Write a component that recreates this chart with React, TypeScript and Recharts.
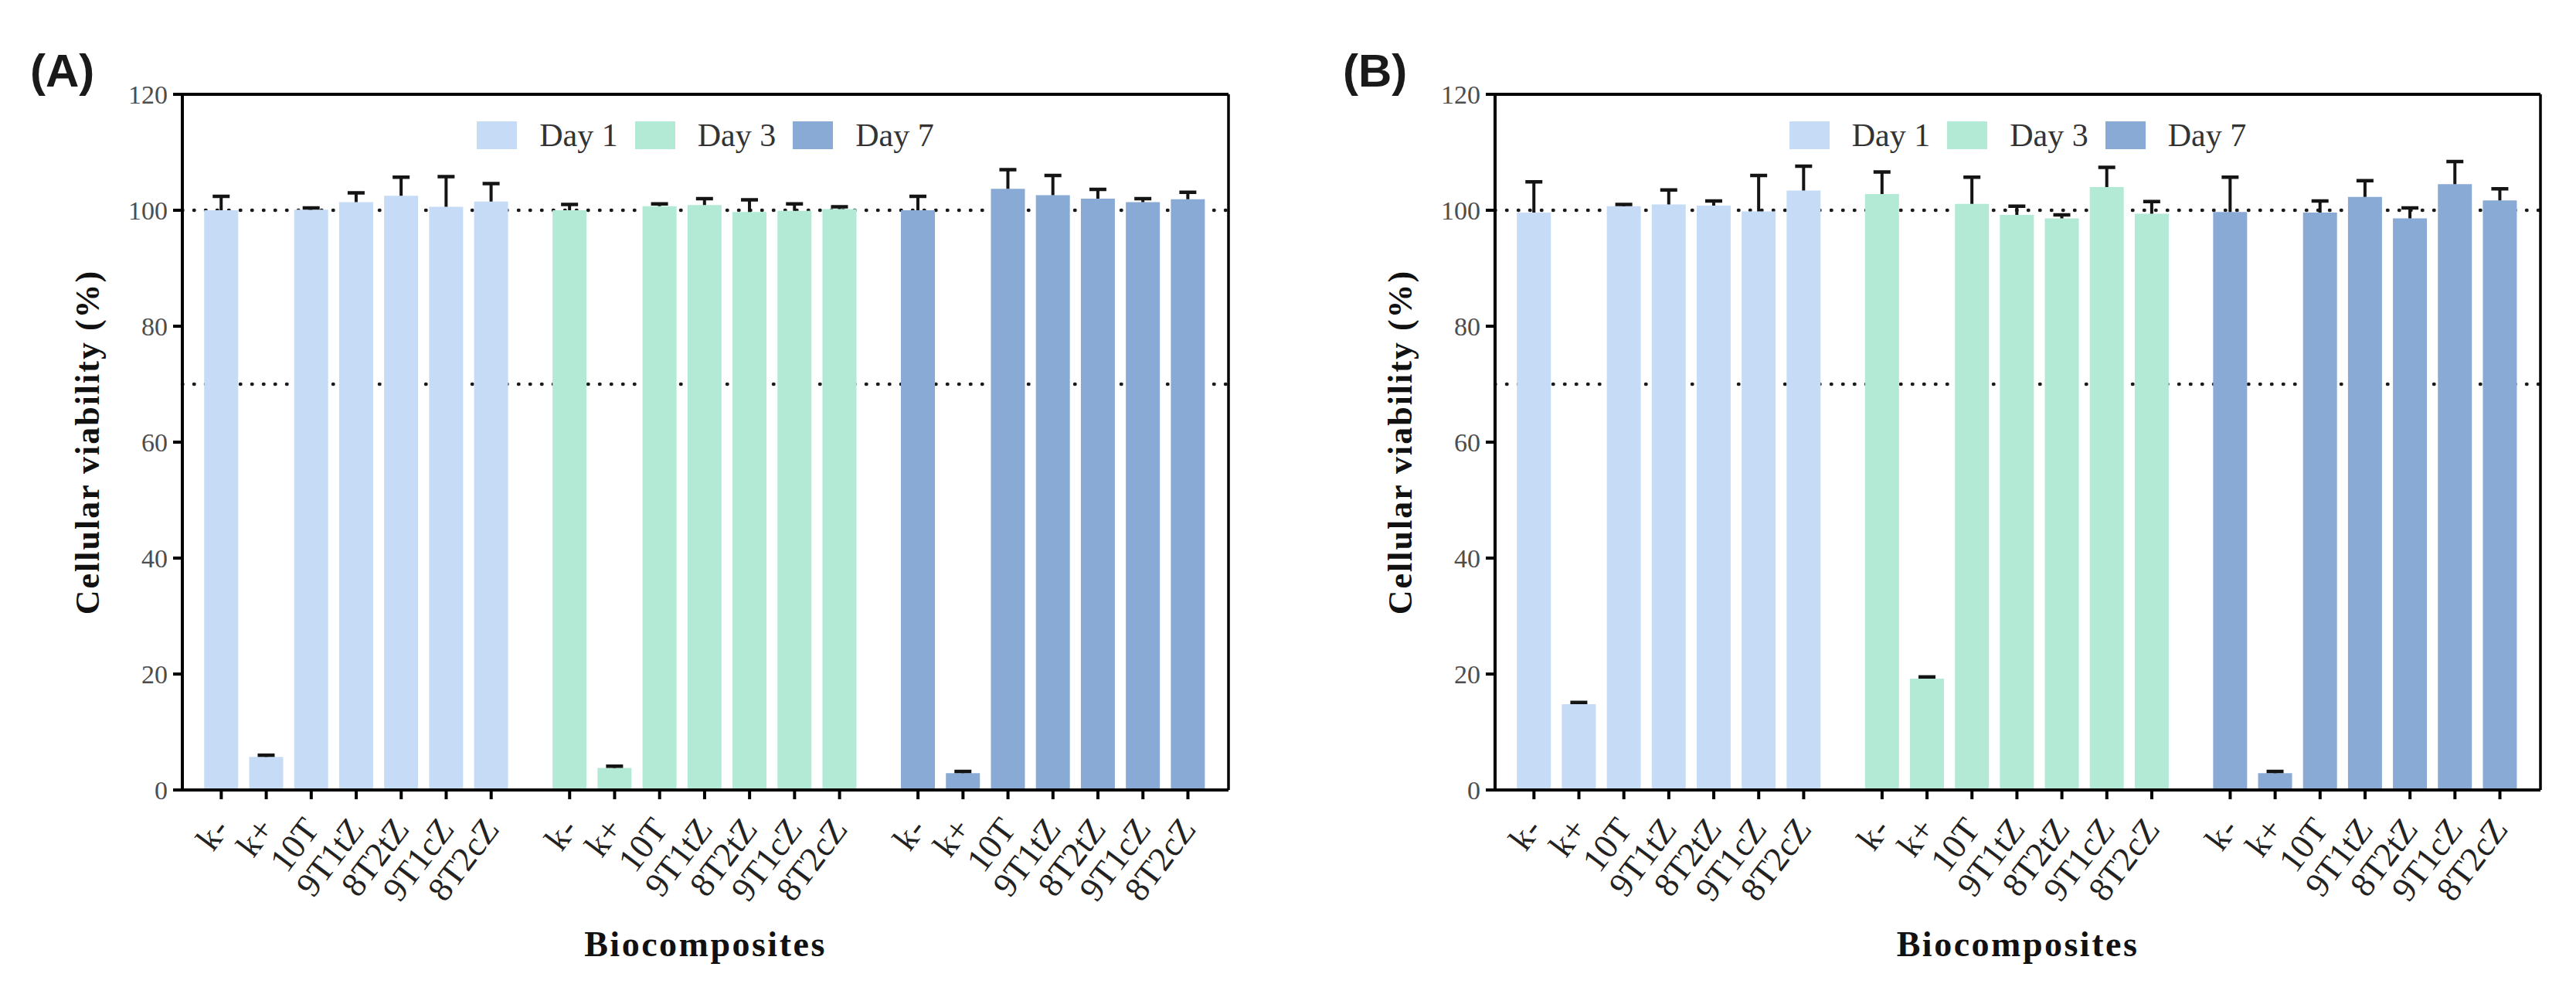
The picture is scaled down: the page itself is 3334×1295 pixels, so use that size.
import React from 'react';
import { BarChart, Bar, XAxis, YAxis, CartesianGrid, ReferenceLine, Legend, Cell } from 'recharts';

// ---------- data ----------
const categories = ['k-', 'k+', '10T', '9T1tZ', '8T2tZ', '9T1cZ', '8T2cZ'];
const days = ['Day 1', 'Day 3', 'Day 7'];
const dayColors = ['#c6dcf6', '#b2ead6', '#8aaad6'];
const yTicks = [0, 20, 40, 60, 80, 100, 120];
const thresholds = [70, 100];

// Panel (A)
const aDay1 = [100.0, 5.7, 100.1, 101.4, 102.5, 100.6, 101.5];
const aDay1Err = [2.4, 0.3, 0.3, 1.6, 3.2, 5.2, 3.1];
const aDay3 = [100.0, 3.8, 100.7, 100.9, 99.7, 99.9, 100.2];
const aDay3Err = [1.0, 0.3, 0.4, 1.1, 2.1, 1.2, 0.4];
const aDay7 = [100.0, 2.9, 103.7, 102.6, 102.0, 101.4, 101.9];
const aDay7Err = [2.4, 0.3, 3.3, 3.4, 1.6, 0.6, 1.2];

// Panel (B)
const bDay1 = [99.6, 14.8, 100.7, 101.0, 100.8, 99.8, 103.4];
const bDay1Err = [5.3, 0.3, 0.3, 2.5, 0.8, 6.2, 4.2];
const bDay3 = [102.8, 19.2, 101.1, 99.2, 98.6, 104.0, 99.4];
const bDay3Err = [3.8, 0.3, 4.6, 1.5, 0.6, 3.4, 2.1];
const bDay7 = [99.7, 2.9, 99.6, 102.3, 98.6, 104.5, 101.7];
const bDay7Err = [6.0, 0.3, 2.0, 2.8, 1.8, 3.9, 2.0];

// ---------- layout helpers ----------
const GROUP_STEP = 7.744;
const X_DOMAIN: [number, number] = [-0.865, 22.39];
const CHART_H = 1295;

type Row = { x: number; label: string; day: number; value: number; err: number };

function buildRows(series: number[][], errors: number[][]): Row[] {
  const rows: Row[] = [];
  series.forEach((vals, g) =>
    vals.forEach((v, i) =>
      rows.push({ x: g * GROUP_STEP + i, label: categories[i], day: g, value: v, err: errors[g][i] })
    )
  );
  return rows;
}

const rowsA = buildRows([aDay1, aDay3, aDay7], [aDay1Err, aDay3Err, aDay7Err]);
const rowsB = buildRows([bDay1, bDay3, bDay7], [bDay1Err, bDay3Err, bDay7Err]);
const tickPositions = rowsA.map((r) => r.x);

const XTick = (props: any) => {
  const { x, y, payload } = props;
  let k = tickPositions.indexOf(payload?.value);
  if (k < 0) k = props.index ?? 0;
  const label = categories[k % categories.length];
  return (
    <text
      x={0}
      y={0}
      transform={`translate(${x + 12},${y + 37}) rotate(-53)`}
      textAnchor="end"
      fontSize={45}
      fill="#222"
      fontFamily='"Liberation Serif", serif'
    >
      {label}
    </text>
  );
};

const ErrorCap = (props: any) => {
  const { x, y, width, height } = props;
  if (x == null || y == null) return null;
  const cx = x + width / 2;
  return (
    <g>
      <line x1={cx} x2={cx} y1={y + height} y2={y} stroke="#141414" strokeWidth={4} />
      <line x1={cx - 11} x2={cx + 11} y1={y} y2={y} stroke="#141414" strokeWidth={4.5} />
    </g>
  );
};

const LegendContent = () => (
  <div style={{ display: 'flex', justifyContent: 'center', alignItems: 'center', height: 50 }}>
    {days.map((d, i) => (
      <div key={d} style={{ display: 'flex', alignItems: 'center', marginRight: i < days.length - 1 ? 22 : 0 }}>
        <div style={{ width: 52, height: 36, background: dayColors[i], marginRight: 29 }} />
        <span style={{ fontSize: 42, color: '#333', fontFamily: '"Liberation Serif", serif', lineHeight: '50px' }}>{d}</span>
      </div>
    ))}
  </div>
);

function Panel({ rows, width, marginRight }: { rows: Row[]; width: number; marginRight: number }) {
  const plotW = width - 116 - 120 - marginRight;
  return (
    <BarChart
      width={width}
      height={CHART_H}
      data={rows}
      margin={{ top: 122, right: marginRight, left: 116, bottom: 53 }}
      barSize={44}
    >
      <CartesianGrid
        vertical={false}
        horizontalValues={thresholds}
        stroke="#1a1a1a"
        strokeWidth={4.5}
        strokeLinecap="round"
        strokeDasharray="0.5 14.5"
      />
      <XAxis
        type="number"
        dataKey="x"
        domain={X_DOMAIN}
        allowDataOverflow
        ticks={tickPositions}
        interval={0}
        tick={<XTick />}
        tickSize={12}
        height={220}
        axisLine={{ stroke: '#000', strokeWidth: 4 }}
        tickLine={{ stroke: '#000', strokeWidth: 4 }}
        label={{
          value: 'Biocomposites',
          position: 'insideBottom',
          offset: 5,
          fontSize: 46,
          fontWeight: 700,
          fill: '#111',
          style: { letterSpacing: '2.5px' },
        }}
      />
      <YAxis
        type="number"
        domain={[0, 120]}
        ticks={yTicks}
        width={120}
        tickSize={12}
        tickMargin={7}
        tick={{ fontSize: 34, fill: '#4d4d4d' }}
        axisLine={{ stroke: '#000', strokeWidth: 4 }}
        tickLine={{ stroke: '#000', strokeWidth: 4 }}
        label={{
          value: 'Cellular viability (%)',
          angle: -90,
          position: 'insideLeft',
          offset: -4,
          fontSize: 44,
          fontWeight: 700,
          fill: '#111',
          style: { textAnchor: 'middle', letterSpacing: '2px' },
        }}
      />
      <Legend
        verticalAlign="middle"
        align="center"
        layout="horizontal"
        wrapperStyle={{ top: 150, left: 236, width: plotW, height: 50 }}
        content={<LegendContent />}
      />
      <Bar dataKey="value" stackId="s" isAnimationActive={false}>
        {rows.map((r, i) => (
          <Cell key={i} fill={dayColors[r.day]} />
        ))}
      </Bar>
      <Bar dataKey="err" stackId="s" isAnimationActive={false} shape={<ErrorCap />} legendType="none" />
      <ReferenceLine y={120} stroke="#000" strokeWidth={4} ifOverflow="visible" />
      <ReferenceLine x={X_DOMAIN[1]} stroke="#000" strokeWidth={3.5} ifOverflow="visible" />
    </BarChart>
  );
}

const titleStyle: React.CSSProperties = {
  position: 'absolute',
  top: 62,
  fontFamily: '"Liberation Sans", Arial, sans-serif',
  fontWeight: 700,
  fontSize: 60,
  lineHeight: '60px',
  color: '#1a1a1a',
};

export default function App() {
  return (
    <div
      style={{
        position: 'absolute',
        left: 0,
        top: 0,
        width: 3334,
        height: 1295,
        background: '#fff',
        overflow: 'hidden',
        fontFamily: '"Liberation Serif", serif',
      }}
    >
      <div style={{ position: 'absolute', left: 0, top: 0 }}>
        <Panel rows={rowsA} width={1660} marginRight={70} />
      </div>
      <div style={{ position: 'absolute', left: 1699, top: 0 }}>
        <Panel rows={rowsB} width={1635} marginRight={46} />
      </div>
      <div style={{ ...titleStyle, left: 39 }}>(A)</div>
      <div style={{ ...titleStyle, left: 1738 }}>(B)</div>
    </div>
  );
}
